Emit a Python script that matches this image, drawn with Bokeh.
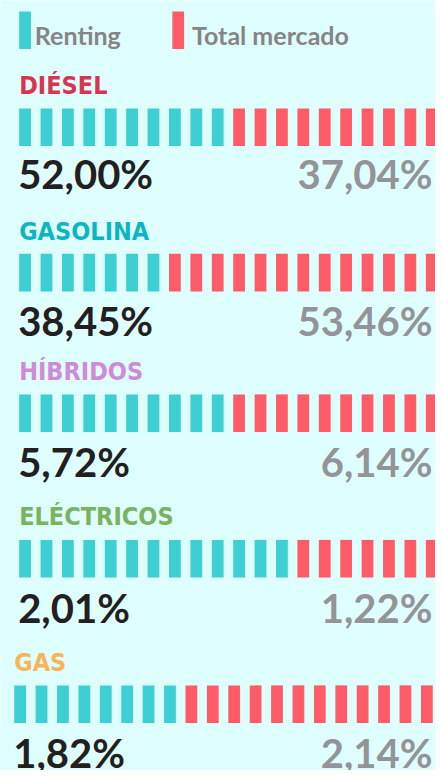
from bokeh.plotting import figure
from bokeh.models import Range1d
from bokeh.embed import file_html
from bokeh.resources import INLINE
from bokeh.core.properties import value

# ---- data ----
categories = ["DIÉSEL", "GASOLINA", "HÍBRIDOS", "ELÉCTRICOS", "GAS"]
renting_pct = ["52,00%", "38,45%", "5,72%", "2,01%", "1,82%"]
mercado_pct = ["37,04%", "53,46%", "6,14%", "1,22%", "2,14%"]
renting_segments = [10, 7, 10, 13, 8]
total_segments = 20
legend_labels = ["Renting", "Total mercado"]

# ---- styles ----
BG = "#dffefe"
TEAL = "#3ccfd3"
RED = "#ff5b69"
title_colors = ["#da3550", "#0cb6c0", "#cf8ad9", "#79b35e", "#f8b45a"]
NUM_DARK = "#231f20"
NUM_GREY = "#939497"
LEG_GREY = "#858585"

TITLE_FONT = value("'Liberation Sans Narrow', 'DejaVu Sans Condensed', Roboto, sans-serif")
NUM_FONT = value("Lato")

W, H = 435, 770
p = figure(width=W, height=H, output_backend="svg", toolbar_location=None,
           x_range=Range1d(0, 443), y_range=Range1d(778, 0),
           min_border=0, background_fill_color=BG, border_fill_color=BG,
           outline_line_color=None)
p.axis.visible = False
p.grid.visible = False

# layout (positions in reference-picture coordinates)
row_x = [19, 19, 19, 19, 14]
title_base = [94, 242, 383, 530, 677]
bar_top = [109, 256, 398, 545, 692]
bar_h = 38
num_base = [189, 337, 479, 627, 774]
pitch = 21.8
seg_w = 12

TITLE_SIZE, NUM_SIZE, LEG_SIZE = 25, 40, 25
def adj(ys, size):
    return [y - 0.33 * size for y in ys]

# legend
p.quad(left=[19, 175], right=[31, 187], top=[11, 11], bottom=[49, 49],
       color=[TEAL, RED], line_color=None)
p.text(x=[35, 195], y=adj([43, 43], LEG_SIZE), text=legend_labels, text_color=LEG_GREY,
       text_font=NUM_FONT, text_font_style="bold", text_font_size=f"{LEG_SIZE}px",
       text_baseline="alphabetic")

lefts, rights, tops, bottoms, colors = [], [], [], [], []
for i, n in enumerate(renting_segments):
    for k in range(total_segments):
        l = row_x[i] + k * pitch
        lefts.append(l)
        rights.append(l + seg_w)
        tops.append(bar_top[i])
        bottoms.append(bar_top[i] + bar_h)
        colors.append(TEAL if k < n else RED)
p.quad(left=lefts, right=rights, top=tops, bottom=bottoms, color=colors, line_color=None)

# titles
p.text(x=row_x, y=adj(title_base, TITLE_SIZE), text=categories, text_color=title_colors,
       text_font=TITLE_FONT, text_font_style="bold",
       text_font_size=f"{TITLE_SIZE}px", text_baseline="alphabetic")

# numbers
p.text(x=[x - 1 for x in row_x], y=adj(num_base, NUM_SIZE), text=renting_pct, text_color=NUM_DARK,
       text_font=NUM_FONT, text_font_style="bold", text_font_size=f"{NUM_SIZE}px",
       text_baseline="alphabetic")
p.text(x=[440] * 5, y=adj(num_base, NUM_SIZE), text=mercado_pct, text_color=NUM_GREY,
       text_font=NUM_FONT, text_font_style="bold", text_font_size=f"{NUM_SIZE}px",
       text_baseline="alphabetic", text_align="right")

open("out.html", "w").write(file_html(p, INLINE))
